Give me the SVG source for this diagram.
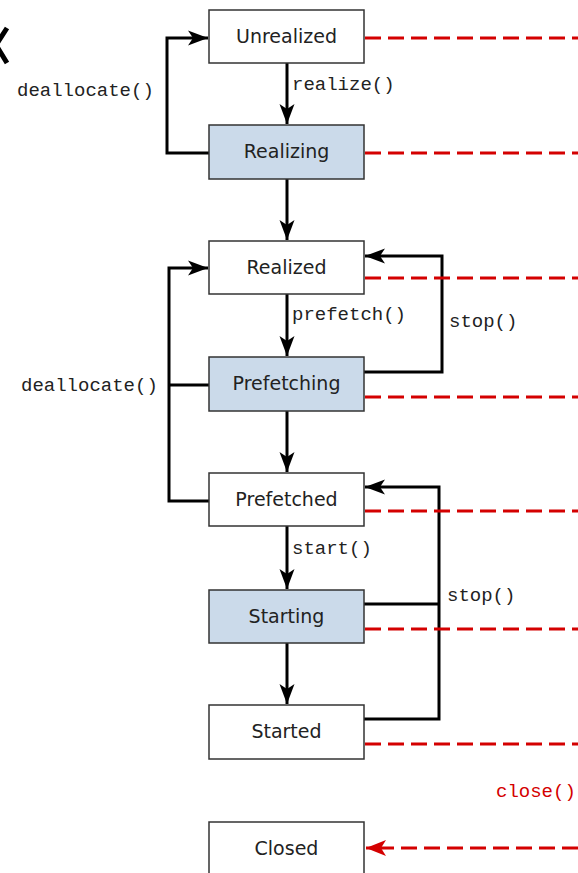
<svg xmlns="http://www.w3.org/2000/svg" width="578" height="873" viewBox="0 0 578 873">
  <style>
    .box { stroke: #333; stroke-width: 1.5; fill: #fff; }
    .busy { fill: #cbdaea; }
    .name { font-family: "DejaVu Sans", Verdana, sans-serif; font-size: 19px; fill: #222; text-anchor: middle; }
    .call { font-family: "Liberation Mono", "Courier New", monospace; font-size: 19px; fill: #222; }
    .close { fill: #d40000; }
    .flow { stroke: #000; stroke-width: 3; fill: none; }
    .kill { stroke: #d40000; stroke-width: 3; fill: none; stroke-dasharray: 16 7; }
  </style>
  <defs>
    <marker id="head" markerUnits="userSpaceOnUse" markerWidth="24" markerHeight="20" viewBox="-21 -10 24 20" refX="0" refY="0" orient="auto">
      <path d="M0,0 L-20,-7.5 L-15,0 L-20,7.5 Z" fill="#000"/>
    </marker>
    <marker id="headRed" markerUnits="userSpaceOnUse" markerWidth="24" markerHeight="20" viewBox="-21 -10 24 20" refX="0" refY="0" orient="auto">
      <path d="M0,0 L-20,-8 L-15,0 L-20,8 Z" fill="#d40000"/>
    </marker>
  </defs>

  <rect width="578" height="873" fill="#fff"/>

  <!-- chevron at the left edge -->
  <polyline points="7,28 -4,45 7,63" fill="none" stroke="#000" stroke-width="5"/>

  <!-- connectors -->
  <g id="connectors">
    <!-- forward transitions -->
    <line class="flow" x1="287" y1="63" x2="287" y2="124" marker-end="url(#head)"/>
    <line class="flow" x1="287" y1="179" x2="287" y2="240" marker-end="url(#head)"/>
    <line class="flow" x1="287" y1="294" x2="287" y2="356" marker-end="url(#head)"/>
    <line class="flow" x1="287" y1="411" x2="287" y2="472" marker-end="url(#head)"/>
    <line class="flow" x1="287" y1="526" x2="287" y2="589" marker-end="url(#head)"/>
    <line class="flow" x1="287" y1="643" x2="287" y2="704" marker-end="url(#head)"/>

    <!-- deallocate() loops -->
    <polyline class="flow" points="209,153 167,153 167,38 208,38" marker-end="url(#head)"/>
    <polyline class="flow" points="209,501 169,501 169,268 208,268" marker-end="url(#head)"/>
    <line class="flow" x1="169" y1="385" x2="209" y2="385"/>

    <!-- stop() loops -->
    <polyline class="flow" points="364,372 442,372 442,256 365,256" marker-end="url(#head)"/>
    <polyline class="flow" points="364,719 439,719 439,487 365,487" marker-end="url(#head)"/>
    <line class="flow" x1="364" y1="604" x2="439" y2="604"/>

    <!-- close() from every state -->
    <line class="kill" x1="365" y1="38" x2="578" y2="38"/>
    <line class="kill" x1="365" y1="153" x2="578" y2="153"/>
    <line class="kill" x1="365" y1="278" x2="578" y2="278"/>
    <line class="kill" x1="365" y1="397" x2="578" y2="397"/>
    <line class="kill" x1="365" y1="511" x2="578" y2="511"/>
    <line class="kill" x1="365" y1="629" x2="578" y2="629"/>
    <line class="kill" x1="365" y1="744" x2="578" y2="744"/>
    <line class="kill" x1="578" y1="848" x2="366" y2="848" marker-end="url(#headRed)"/>

    <!-- transition labels -->
    <text class="call" x="17" y="96">deallocate()</text>
    <text class="call" x="292" y="90">realize()</text>
    <text class="call" x="292" y="320">prefetch()</text>
    <text class="call" x="449" y="327">stop()</text>
    <text class="call" x="21" y="391">deallocate()</text>
    <text class="call" x="292" y="554">start()</text>
    <text class="call" x="447" y="601">stop()</text>
    <text class="call close" x="496" y="797">close()</text>
  </g>

  <!-- states -->
  <g id="unrealized">
    <rect class="box" x="209" y="10" width="155" height="53"/>
    <text class="name" x="286.5" y="43">Unrealized</text>
  </g>
  <g id="realizing">
    <rect class="box busy" x="209" y="125" width="155" height="54"/>
    <text class="name" x="286.5" y="158">Realizing</text>
  </g>
  <g id="realized">
    <rect class="box" x="209" y="241" width="155" height="53"/>
    <text class="name" x="286.5" y="274">Realized</text>
  </g>
  <g id="prefetching">
    <rect class="box busy" x="209" y="357" width="155" height="54"/>
    <text class="name" x="286.5" y="390">Prefetching</text>
  </g>
  <g id="prefetched">
    <rect class="box" x="209" y="473" width="155" height="53"/>
    <text class="name" x="286.5" y="506">Prefetched</text>
  </g>
  <g id="starting">
    <rect class="box busy" x="209" y="590" width="155" height="53"/>
    <text class="name" x="286.5" y="623">Starting</text>
  </g>
  <g id="started">
    <rect class="box" x="209" y="705" width="155" height="54"/>
    <text class="name" x="286.5" y="738">Started</text>
  </g>
  <g id="closed">
    <rect class="box" x="209" y="822" width="155" height="56"/>
    <text class="name" x="286.5" y="855">Closed</text>
  </g>
</svg>
